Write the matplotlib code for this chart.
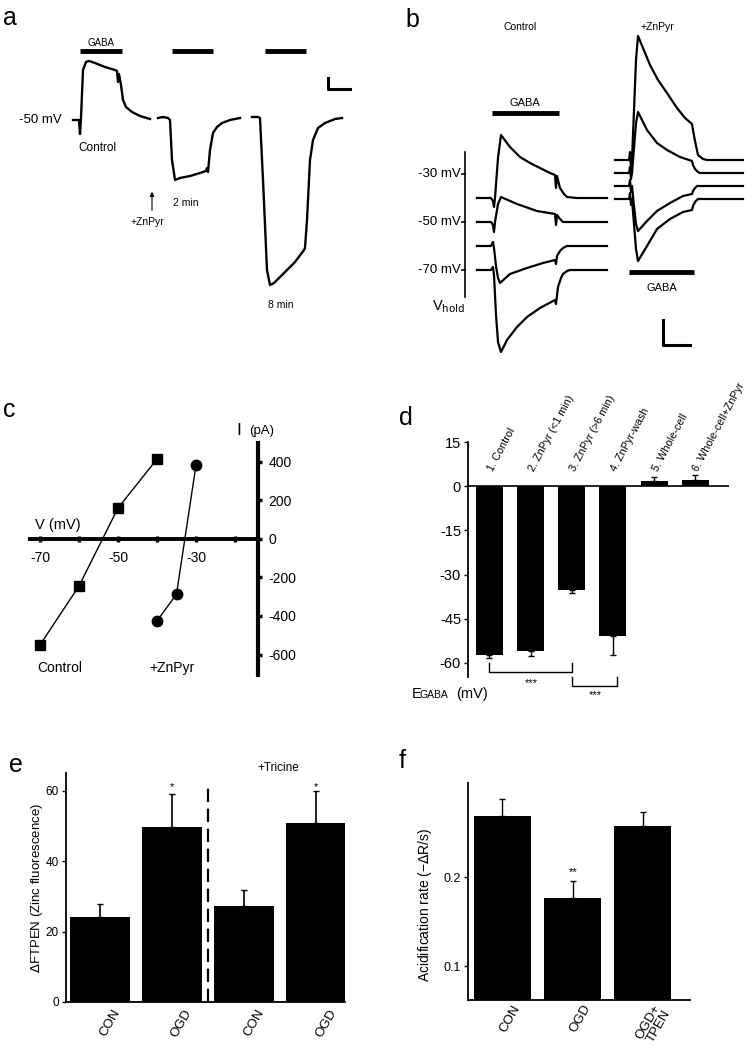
import numpy as np
import matplotlib
matplotlib.use('Agg')
import matplotlib.pyplot as plt
from matplotlib.transforms import ScaledTranslation

plt.rcParams['font.family'] = ['Liberation Sans', 'DejaVu Sans']
plt.rcParams['axes.unicode_minus'] = False

W, H = 754, 1050

#%% data
# a: current-clamp traces (time, deflection from the -50 mV baseline)
a_ctrl_t = [73, 79, 80, 81, 83, 86, 89, 95, 105, 115, 117, 118, 119, 121, 123, 126, 132, 140, 150]
a_ctrl_v = [0, 0, -14, 2, 50, 58, 59, 57, 53, 50, 49, 38, 46, 35, 20, 13, 8, 4, 1]
a_2min_t = [158, 163, 168, 170, 172, 175, 180, 190, 200, 206, 207, 208, 210, 213, 217, 222, 230, 240]
a_2min_v = [2, 3, 2, 0, -40, -60, -58, -56, -53, -51, -48, -52, -30, -13, -7, -3, 0, 2]
a_8min_t = [252, 258, 260, 263, 267, 270, 274, 285, 295, 304, 305, 307, 310, 313, 318, 325, 335, 342]
a_8min_v = [3, 3, 2, -60, -150, -165, -163, -152, -142, -130, -128, -100, -40, -20, -8, -3, 1, 2]
a_gaba = [(80, 122), (172, 213), (265, 306)]

# b: voltage-clamp traces at 4 holding potentials
b_vhold = [-40, -50, -60, -70]
b_ctrl_t = [
    [100, 114, 116, 117, 118, 121, 124, 133, 143, 153, 163, 173, 178, 179, 180, 183, 187, 190, 200, 230],
    [100, 114, 116, 117, 118, 121, 124, 140, 160, 178, 179, 180, 183, 186, 190, 230],
    [100, 114, 116, 117, 119, 121, 123, 133, 150, 166, 178, 179, 180, 183, 186, 190, 230],
    [100, 114, 116, 117, 119, 121, 124, 130, 140, 150, 163, 178, 179, 181, 184, 186, 190, 193, 230],
]
b_ctrl_d = [
    [0, 0, -3, -9, 0, 40, 63, 51, 41, 35, 30, 25, 23, 10, 22, 10, 4, 1, 0, 0],
    [0, 0, -3, -10, 0, 18, 25, 18, 11, 8, -3, 7, 3, 0, 0, 0],
    [0, 0, 4, -2, -20, -32, -37, -28, -22, -17, -14, -18, -10, -5, -2, 0, 0],
    [0, 0, 3, -5, -45, -72, -82, -70, -57, -47, -38, -30, -34, -17, -8, -4, -1, 0, 0],
]
b_zn_t = [
    [238, 252, 253, 254, 255, 257, 259, 261, 266, 273, 281, 290, 300, 308, 315, 316, 318, 321, 326, 330, 366],
    [238, 252, 253, 254, 255, 257, 259, 261, 270, 280, 290, 303, 315, 316, 318, 321, 323, 366],
    [238, 252, 253, 254, 255, 257, 259, 261, 270, 280, 293, 306, 315, 316, 318, 320, 366],
    [238, 252, 253, 254, 255, 257, 259, 261, 270, 280, 293, 306, 315, 316, 318, 321, 366],
]
b_zn_d = [
    [0, 0, 8, -8, 0, 50, 100, 124, 112, 95, 80, 67, 52, 42, 36, 30, 19, 5, 1, 0, 0],
    [0, 0, 6, -6, 0, 25, 50, 61, 43, 30, 23, 16, 12, 8, 4, 1, 0, 0],
    [0, 0, 6, -6, 0, -20, -38, -45, -35, -25, -17, -10, -8, -5, -2, 0, 0],
    [0, 0, 6, -6, 0, -25, -50, -62, -47, -30, -20, -13, -11, -7, -3, 0, 0],
]

# c: I-V curves
c_ctrl_v = [-70, -60, -50, -40]
c_ctrl_i = [-550, -244, 161, 415]
c_zn_v = [-40, -35, -30]
c_zn_i = [-426, -286, 384]

# d: EGABA
d_labels = ['1. Control', '2. ZnPyr (<1 min)', '3. ZnPyr (>6 min)', '4. ZnPyr-wash',
            '5. Whole-cell', '6. Whole-cell+ZnPyr']
d_vals = [-57.3, -56.0, -35.2, -50.9, 1.7, 2.2]
d_err = [1.2, 1.5, 1.0, 6.4, 1.3, 1.5]

# e: zinc fluorescence
e_labels = ['CON', 'OGD', 'CON', 'OGD']
e_vals = [24.1, 49.6, 27.2, 50.8]
e_err = [3.7, 9.4, 4.6, 9.1]

# f: acidification rate
f_labels = ['CON', 'OGD', 'OGD+\nTPEN']
f_vals = [0.2685, 0.1764, 0.2573]
f_err = [0.020, 0.019, 0.016]

#%% helpers
fig = plt.figure(figsize=(W / 100, H / 100), dpi=100)


def box(x0, y0, x1, y1):
    return fig.add_axes([x0 / W, 1 - y1 / H, (x1 - x0) / W, (y1 - y0) / H])


def ftext(x, y, s, **kw):
    fig.text(x / W, 1 - y / H, s, **kw)


for lab, x, y in [('a', 3, 25), ('b', 405, 27), ('c', 3, 417),
                  ('d', 399, 425), ('e', 9, 772), ('f', 399, 768)]:
    ftext(x, y, lab, fontsize=18, va='baseline')

#%% panel a
ax = box(0, 0, 377, 320)
ax.set_xlim(0, 377)
ax.set_ylim(-200, 120)
ax.axis('off')
for t, v in [(a_ctrl_t, a_ctrl_v), (a_2min_t, a_2min_v), (a_8min_t, a_8min_v)]:
    ax.plot(t, v, color='k', lw=1.7, solid_joinstyle='round')
for x0, x1 in a_gaba:
    ax.plot([x0, x1], [69, 69], color='k', lw=3.5, solid_capstyle='butt')
ax.plot([328, 328, 350], [42, 31, 31], color='k', lw=2.2)
ax.text(101, 77, 'GABA', fontsize=7, ha='center', va='center')
ax.text(62, 0, '-50 mV', fontsize=9.5, ha='right', va='center')
ax.text(97, -28, 'Control', fontsize=8.5, ha='center', va='center')
ax.text(147, -102, '+ZnPyr', fontsize=7.5, ha='center', va='center')
ax.text(186, -83, '2 min', fontsize=7.5, ha='center', va='center')
ax.text(281, -185, '8 min', fontsize=7.5, ha='center', va='center')
ax.annotate('', xy=(152, -69), xytext=(152, -93),
            arrowprops=dict(arrowstyle='-|>', lw=0.8, color='k', mutation_scale=6))

#%% panel b
ax = box(377, 0, 754, 360)
ax.set_xlim(0, 377)
ax.set_ylim(360, 0)
ax.axis('off')
for vh, t, d in zip(b_vhold, b_ctrl_t, b_ctrl_d):
    y0 = 222 - (vh + 50) * 2.4
    ax.plot(t, y0 - np.array(d), color='k', lw=1.6, solid_joinstyle='round')
for vh, t, d in zip(b_vhold, b_zn_t, b_zn_d):
    y0 = 173 - (vh + 50) * 1.3
    ax.plot(t, y0 - np.array(d), color='k', lw=1.6, solid_joinstyle='round')
ax.plot([88, 88], [152, 297], color='k', lw=1.2)
for v in [-30, -50, -70]:
    y = 222 - (v + 50) * 2.4
    ax.plot([85, 88], [y, y], color='k', lw=1.2)
    ax.text(84, y, '%d mV' % v, fontsize=9.5, ha='right', va='center')
ax.text(88, 307, r'V$_{\mathrm{hold}}$', fontsize=10.5, ha='right', va='center')
ax.text(143, 27, 'Control', fontsize=7.5, ha='center', va='center')
ax.text(280, 27, '+ZnPyr', fontsize=7.5, ha='center', va='center')
ax.plot([115, 182], [113, 113], color='k', lw=3.5, solid_capstyle='butt')
ax.text(148, 103, 'GABA', fontsize=8, ha='center', va='center')
ax.plot([252, 317], [272, 272], color='k', lw=3.5, solid_capstyle='butt')
ax.text(285, 288, 'GABA', fontsize=8, ha='center', va='center')
ax.plot([286, 286, 313], [320, 345, 345], color='k', lw=2.2)

#%% panel c
ax = box(0, 400, 377, 690)
ax.set_xlim(-80.26, 16.41)
ax.set_ylim(-784.4, 722)
ax.patch.set_alpha(0)
ax.plot(c_ctrl_v, c_ctrl_i, color='k', lw=1, marker='s', ms=7)
ax.plot(c_zn_v, c_zn_i, color='k', lw=1, marker='o', ms=7.5)
for s in ['top', 'left']:
    ax.spines[s].set_visible(False)
ax.spines['bottom'].set_position(('data', 0))
ax.spines['bottom'].set_bounds(-72.6, -14)
ax.spines['bottom'].set_linewidth(2.8)
ax.spines['right'].set_position(('data', -14))
ax.spines['right'].set_bounds(-706, 499)
ax.spines['right'].set_linewidth(3)
ax.set_xticks([-70, -60, -50, -40, -30, -20])
ax.set_xticklabels(['-70', '', '-50', '', '-30', ''])
ax.tick_params(axis='x', direction='inout', length=5, width=2.5, pad=6, labelsize=10)
ax.yaxis.set_ticks_position('right')
ax.set_yticks([-600, -400, -200, 0, 200, 400])
ax.tick_params(axis='y', direction='out', length=3, width=2.5, pad=4, labelsize=10)
ax.text(-71.3, 73, 'V (mV)', fontsize=10.5, ha='left', va='center')
ax.text(-19.6, 566, 'I', fontsize=12.5, ha='left', va='center')
ax.text(-16.4, 560, '(pA)', fontsize=9.5, ha='left', va='center')
ax.text(-64.9, -670, 'Control', fontsize=10, ha='center', va='center')
ax.text(-36.2, -670, '+ZnPyr', fontsize=10, ha='center', va='center')

#%% panel d
ax = box(468, 442, 729, 677)
xd = np.arange(1, len(d_vals) + 1)
ax.set_xlim(0.48, 6.82)
ax.set_ylim(-64.8, 15)
ax.bar(xd, d_vals, width=0.655, color='k')
lo = [e if v < 0 else 0 for v, e in zip(d_vals, d_err)]
hi = [e if v > 0 else 0 for v, e in zip(d_vals, d_err)]
ax.errorbar(xd, d_vals, yerr=[lo, hi], fmt='none', ecolor='k', elinewidth=1, capsize=2)
ax.axhline(0, color='k', lw=1.2)
for s in ['top', 'right', 'bottom']:
    ax.spines[s].set_visible(False)
ax.spines['left'].set_linewidth(1.3)
ax.set_xticks([])
ax.set_yticks([15, 0, -15, -30, -45, -60])
ax.tick_params(axis='y', length=3, width=1, labelsize=10.5, pad=2)
for x, lab in zip(xd, d_labels):
    ax.text(x + 0.02, 5.2, lab, fontsize=7.8, rotation=62, ha='left', va='center',
            rotation_mode='anchor')
ax.plot([1, 1, 3, 3], [-60, -63.2, -63.2, -60], color='k', lw=1, clip_on=False)
ax.text(2.03, -66.8, '***', fontsize=8, ha='center', va='center')
ax.plot([3, 3, 4.1, 4.1], [-64.8, -67.8, -67.8, -64.8], color='k', lw=1, clip_on=False)
ax.text(3.57, -71.0, '***', fontsize=8, ha='center', va='center')
ftext(412, 698, 'E', fontsize=10.5, va='baseline')
ftext(420, 698, 'GABA', fontsize=7.5, va='baseline')
ftext(456, 698, '(mV)', fontsize=10.5, va='baseline')

#%% panel e
ax = box(66, 773, 345, 1002)
xe = np.arange(len(e_vals))
ax.set_xlim(-0.472, 3.4)
ax.set_ylim(0, 65)
ax.bar(xe, e_vals, width=0.83, color='k')
ax.errorbar(xe, e_vals, yerr=[[0] * 4, e_err], fmt='none', ecolor='k', elinewidth=1.2, capsize=2.5)
ax.plot([1.5, 1.5], [0, 62.4], color='k', lw=1.6, ls=(0, (6, 3)))
for s in ['top', 'right']:
    ax.spines[s].set_visible(False)
for s in ['left', 'bottom']:
    ax.spines[s].set_linewidth(1.3)
ax.set_yticks([0, 20, 40, 60])
ax.tick_params(axis='y', length=3, width=1, labelsize=8.5, pad=2)
ax.set_xticks(xe)
lbls = ax.set_xticklabels(e_labels, rotation=60, ha='right', rotation_mode='anchor', fontsize=9.5)
ax.tick_params(axis='x', length=0, pad=4)
for l in lbls:
    l.set_transform(l.get_transform() + ScaledTranslation(0.12, 0, fig.dpi_scale_trans))
for i in [1, 3]:
    ax.text(xe[i], 61.0, '*', fontsize=8, ha='center', va='center')
ftext(278, 768, '+Tricine', fontsize=8.5, ha='center', va='center')
ftext(37, 888, r'$\Delta$FTPEN (Zinc fluorescence)', fontsize=9.5, rotation=90,
      ha='center', va='center')

#%% panel f
ax = box(468, 783, 690, 1000)
xf = np.arange(len(f_vals))
ax.set_xlim(-0.49, 2.67)
ax.set_ylim(0.062, 0.306)
ax.bar(xf, f_vals, width=0.81, color='k')
ax.errorbar(xf, f_vals, yerr=[[0] * 3, f_err], fmt='none', ecolor='k', elinewidth=1, capsize=2)
for s in ['top', 'right']:
    ax.spines[s].set_visible(False)
for s in ['left', 'bottom']:
    ax.spines[s].set_linewidth(1.3)
ax.set_yticks([0.1, 0.2])
ax.set_yticklabels(['0.1', '0.2'])
ax.tick_params(axis='y', length=3, width=1, labelsize=9, pad=2)
ax.set_xticks(xf)
lbls = ax.set_xticklabels(f_labels, rotation=60, ha='right', rotation_mode='anchor',
                          fontsize=9.5, linespacing=0.85)
ax.tick_params(axis='x', length=0, pad=2)
for l in lbls:
    l.set_transform(l.get_transform() + ScaledTranslation(0.1, 0, fig.dpi_scale_trans))
ax.text(xf[1], 0.2056, '**', fontsize=8, ha='center', va='center')
ftext(425, 905, r'Acidification rate (−$\Delta$R/s)', fontsize=10, rotation=90,
      ha='center', va='center')

fig.savefig('out.png', dpi=100)
